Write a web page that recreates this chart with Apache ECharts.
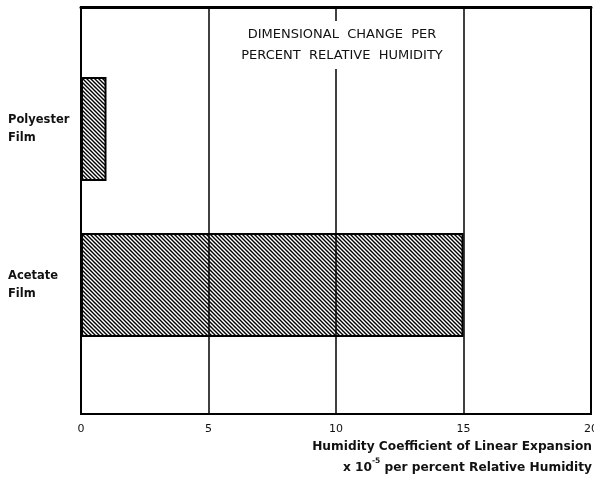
<!DOCTYPE html>
<html>
<head>
<meta charset="utf-8">
<script src="https://cdn.jsdelivr.net/npm/echarts@6/dist/echarts.min.js"></script>
<style>
  html, body { margin: 0; padding: 0; background: #fff; }
  #chart { width: 594px; height: 485px; }
</style>
</head>
<body>
<div id="chart"></div>
<script>
// film types, top to bottom
const films = ['Polyester\nFilm', 'Acetate\nFilm'];
// humidity coefficient, x 10^-5 per %RH
const coefficients = [1.0, 15];
const xTicks = [0, 5, 10, 15, 20];

const font = 'DejaVu Sans';

// diagonal hatch tile
function hatch() {
  const c = document.createElement('canvas');
  c.width = 4;
  c.height = 4;
  const ctx = c.getContext('2d');
  ctx.strokeStyle = '#000';
  ctx.lineWidth = 1.4;
  ctx.beginPath();
  ctx.moveTo(-1, -1); ctx.lineTo(5, 5);
  ctx.moveTo(-1, 3); ctx.lineTo(1, 5);
  ctx.moveTo(3, -1); ctx.lineTo(5, 1);
  ctx.stroke();
  return c;
}

const chart = echarts.init(document.getElementById('chart'));

chart.setOption({
  animation: false,
  backgroundColor: '#fff',
  title: [
    {
      text: 'DIMENSIONAL  CHANGE  PER\nPERCENT  RELATIVE  HUMIDITY',
      left: 336,
      top: 21,
      textAlign: 'center',
      backgroundColor: '#fff',
      padding: [3, 6],
      textStyle: { fontFamily: font, fontSize: 13, fontWeight: 'normal', color: '#111', lineHeight: 21 },
      z: 10
    },
    {
      // x axis caption, right aligned under the axis end
      text: 'Humidity Coefficient of Linear Expansion\nx 10{sup|-5} per percent Relative Humidity',
      right: 'right',
      top: 436,
      padding: [0, 2, 0, 0],
      textStyle: {
        fontFamily: font,
        fontSize: 12.2,
        fontWeight: 'bold',
        color: '#111',
        lineHeight: 21,
        rich: {
          sup: { fontFamily: font, fontSize: 7.5, fontWeight: 'bold', color: '#111', verticalAlign: 'top', lineHeight: 21, padding: [0, 0, 8, 0] }
        }
      }
    }
  ],
  grid: [
    { left: 81, right: 3, top: 7, bottom: 71, show: true, borderColor: '#000', borderWidth: 2, containLabel: false, outerBoundsMode: 'none' },
    { left: 81, right: 3, top: 51, bottom: 122, containLabel: false, outerBoundsMode: 'none' }
  ],
  xAxis: [
    {
      gridIndex: 0,
      type: 'value',
      min: xTicks[0],
      max: xTicks[xTicks.length - 1],
      interval: 5,
      axisLine: { show: true, lineStyle: { color: '#000', width: 2 } },
      axisTick: { show: false },
      splitLine: { show: true, lineStyle: { color: '#000', width: 1.5 } },
      axisLabel: { color: '#111', fontFamily: font, fontSize: 11, margin: 10 }
    },
    {
      gridIndex: 0,
      type: 'value',
      position: 'top',
      min: 0,
      max: 20,
      axisLine: { show: true, lineStyle: { color: '#000', width: 3 } },
      axisTick: { show: false },
      axisLabel: { show: false },
      splitLine: { show: false }
    },
    {
      gridIndex: 1,
      type: 'value',
      min: 0,
      max: 20,
      show: false
    }
  ],
  yAxis: [
    { gridIndex: 0, type: 'value', show: false },
    {
      gridIndex: 1,
      type: 'category',
      inverse: true,
      data: films,
      axisLine: { show: false },
      axisTick: { show: false },
      axisLabel: {
        align: 'left',
        margin: 73,
        color: '#111',
        fontFamily: font,
        fontSize: 11.5,
        fontWeight: 'bold',
        lineHeight: 18
      }
    }
  ],
  series: [
    {
      type: 'bar',
      xAxisIndex: 2,
      yAxisIndex: 1,
      data: coefficients,
      barWidth: 104,
      itemStyle: {
        color: { image: hatch(), repeat: 'repeat' },
        borderColor: '#000',
        borderWidth: 2
      }
    }
  ]
});
</script>
</body>
</html>
